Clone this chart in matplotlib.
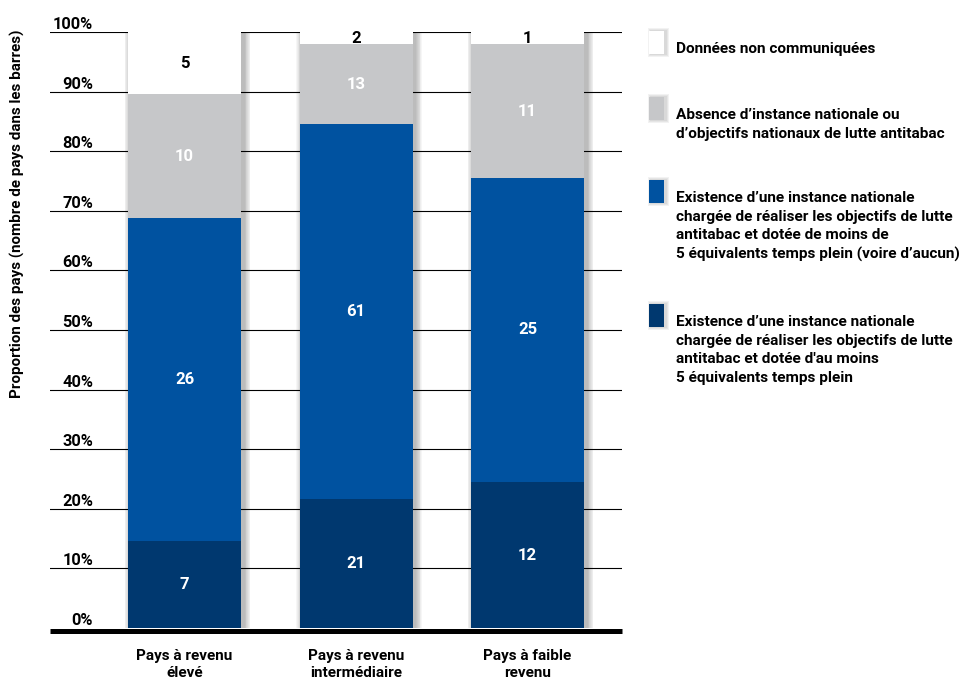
import matplotlib
matplotlib.use("Agg")
import matplotlib.pyplot as plt
from matplotlib.patches import Rectangle
import matplotlib.transforms as mtransforms
import numpy as np

plt.rcParams['font.family'] = ['Roboto', 'DejaVu Sans']

# ---------------- data ----------------
categories = ["Pays à revenu\nélevé", "Pays à revenu\nintermédiaire", "Pays à faible\nrevenu"]
series_names = [
    "Existence d\u2019une instance nationale\nchargée de réaliser les objectifs de lutte\nantitabac et dotée d'au moins\n5 équivalents temps plein",
    "Existence d\u2019une instance nationale\nchargée de réaliser les objectifs de lutte\nantitabac et dotée de moins de\n5 équivalents temps plein (voire d\u2019aucun)",
    "Absence d\u2019instance nationale ou\nd\u2019objectifs nationaux de lutte antitabac",
    "Données non communiquées",
]
counts_5plus = [7, 21, 12]
counts_less5 = [26, 61, 25]
counts_absent = [10, 13, 11]
counts_nodata = [5, 2, 1]
ytick_values = [0, 0.1, 0.2, 0.3, 0.4, 0.5, 0.6, 0.7, 0.8, 0.9, 1.0]
ytick_labels = ["0%", "10%", "20%", "30%", "40%", "50%", "60%", "70%", "80%", "90%", "100%"]

colors = ["#00386F", "#0052A0", "#C6C7C9", "#FFFFFF"]
label_colors = ["white", "white", "white", "black"]

# ---------------- figure ----------------
W, H = 967, 684
fig = plt.figure(figsize=(W / 100, H / 100), dpi=100)
ax = fig.add_axes([50 / W, 56 / H, 572 / W, 596 / H])

unit_px = 171.5
x = np.arange(len(categories))
width = 113 / unit_px
ax.set_xlim((50 - 184.5) / unit_px, (622 - 184.5) / unit_px)
ax.set_ylim(0, 1)

series = [counts_5plus, counts_less5, counts_absent, counts_nodata]
data = np.array(series, dtype=float)
totals = data.sum(axis=0)
props = data / totals

# soft shadow behind bars
px_x = 1 / unit_px
px_y = 1 / 596
for s in range(1, 9):
    ax.bar(x + 3 * px_x, 1.0 + s * 0.6 * px_y, width=width + 2 * s * px_x * 0.8,
           color="black", alpha=0.035, zorder=1, linewidth=0)

bottom = np.zeros(len(categories))
for i, p in enumerate(props):
    ax.bar(x, p, width=width, bottom=bottom, color=colors[i], zorder=3, linewidth=0)
    for j in range(len(categories)):
        ax.text(x[j], bottom[j] + p[j] / 2, str(int(data[i, j])), ha="center", va="center",
                color=label_colors[i], fontsize=12, fontweight="bold", zorder=5)
    bottom += p

# gridlines
for v in ytick_values[1:]:
    ax.axhline(v, color="black", lw=0.8, zorder=2)

# thick baseline below 0
off = mtransforms.offset_copy(ax.transData, fig=fig, y=-2.5, units="dots")
ax.plot([ax.get_xlim()[0], ax.get_xlim()[1]], [0, 0], color="black", lw=3.6,
        transform=off, zorder=6, clip_on=False, solid_capstyle="butt")

for sp in ax.spines.values():
    sp.set_visible(False)

ax.set_yticks(ytick_values)
ax.set_yticklabels(ytick_labels, fontsize=11.8, fontweight="bold")
ax.tick_params(axis="y", length=0, pad=-31)
for t in ax.yaxis.get_major_ticks():
    t.label1.set_verticalalignment("bottom")
    t.label1.set_horizontalalignment("right")

ax.set_xticks(x)
ax.set_xticklabels(categories, fontsize=11, fontweight="bold", linespacing=1.3)
ax.tick_params(axis="x", length=0, pad=15)

fig.text(17 / W, 1 - 214 / H, "Proportion des pays (nombre de pays dans les barres)",
         rotation=90, ha="center", va="center", fontsize=10.9, fontweight="bold")

# legend (manual)
legend_tops = [31, 97, 180, 304]
legend_order = [3, 2, 1, 0]
for top, idx in zip(legend_tops, legend_order):
    for s in range(1, 4):
        fig.patches.append(Rectangle(((649 - s + 1.5) / W, 1 - (top + 23 + s) / H),
                                     (15 + 2 * s) / W, (23 + 2 * s) / H,
                                     transform=fig.transFigure, facecolor="black",
                                     alpha=0.05, linewidth=0, zorder=1))
    fig.patches.append(Rectangle((649 / W, 1 - (top + 23) / H), 15 / W, 23 / H,
                                 transform=fig.transFigure, facecolor=colors[idx],
                                 linewidth=0, zorder=2))
    fig.text(676 / W, 1 - (top + 11) / H, series_names[idx], ha="left", va="top",
             fontsize=11.1, fontweight="bold", linespacing=1.42)

fig.savefig("out.png", dpi=100)
